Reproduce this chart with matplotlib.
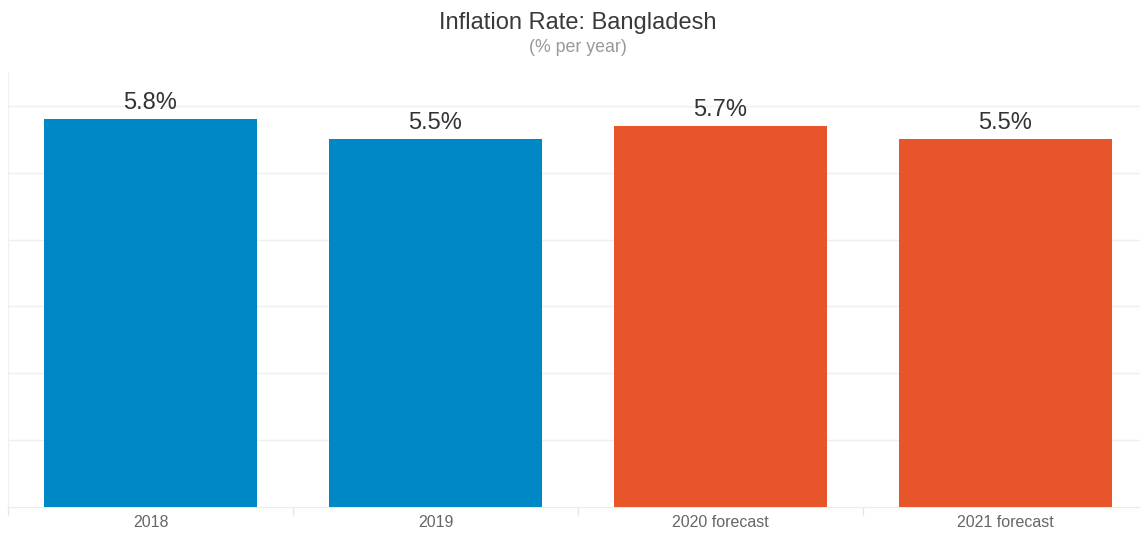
import matplotlib
matplotlib.use("Agg")
import matplotlib.pyplot as plt

categories = ["2018", "2019", "2020 forecast", "2021 forecast"]
values = [5.8, 5.5, 5.7, 5.5]
bar_colors = ["#0088c6", "#0088c6", "#e8552a", "#e8552a"]
title = "Inflation Rate: Bangladesh"
subtitle = "(% per year)"

plt.rcParams["font.family"] = ["Liberation Sans", "DejaVu Sans"]

W, H = 1140, 533
fig = plt.figure(figsize=(W / 100, H / 100), dpi=100)
fig.patch.set_facecolor("white")

# plot area: x spans 8..1148 px, y spans 72..507 px
left, right = 8, 1148
top, bottom = 72.4, 507
ax = fig.add_axes([left / W, (H - bottom) / H, (right - left) / W, (bottom - top) / H])

x = list(range(len(categories)))
ax.bar(x, values, width=0.75, color=bar_colors, zorder=3)

for xi, v in zip(x, values):
    ax.annotate(f"{v}%", (xi, v), xytext=(0, 3.5), textcoords="offset points",
                ha="center", va="bottom", fontsize=17, color="#333333", zorder=4)

ax.set_xlim(-0.5, len(categories) - 0.5)
ax.set_ylim(0, 6.5)
ax.set_yticks([1, 2, 3, 4, 5, 6])
ax.yaxis.grid(True, color="#efefef", linewidth=1, zorder=0)
ax.tick_params(axis="y", left=False, labelleft=False)

ax.set_xticks(x)
ax.set_xticklabels(categories, fontsize=11.5, color="#666666")
ax.tick_params(axis="x", length=0, pad=6)
# category boundary ticks
ax.set_xticks([i + 0.5 for i in range(-1, len(categories))], minor=True)
ax.tick_params(axis="x", which="minor", length=6, color="#e6e6e6", width=1)

for side in ["top", "right"]:
    ax.spines[side].set_visible(False)
ax.spines["left"].set_color("#f0f0f0")
ax.spines["bottom"].set_color("#ebebeb")

cx = 578 / W
fig.text(cx, 1 - 22.5 / H, title, ha="center", va="center", fontsize=17, color="#3a3a3a")
fig.text(cx, 1 - 47.5 / H, subtitle, ha="center", va="center", fontsize=12.8, color="#999999")

fig.savefig("out.png", dpi=100, facecolor="white")
